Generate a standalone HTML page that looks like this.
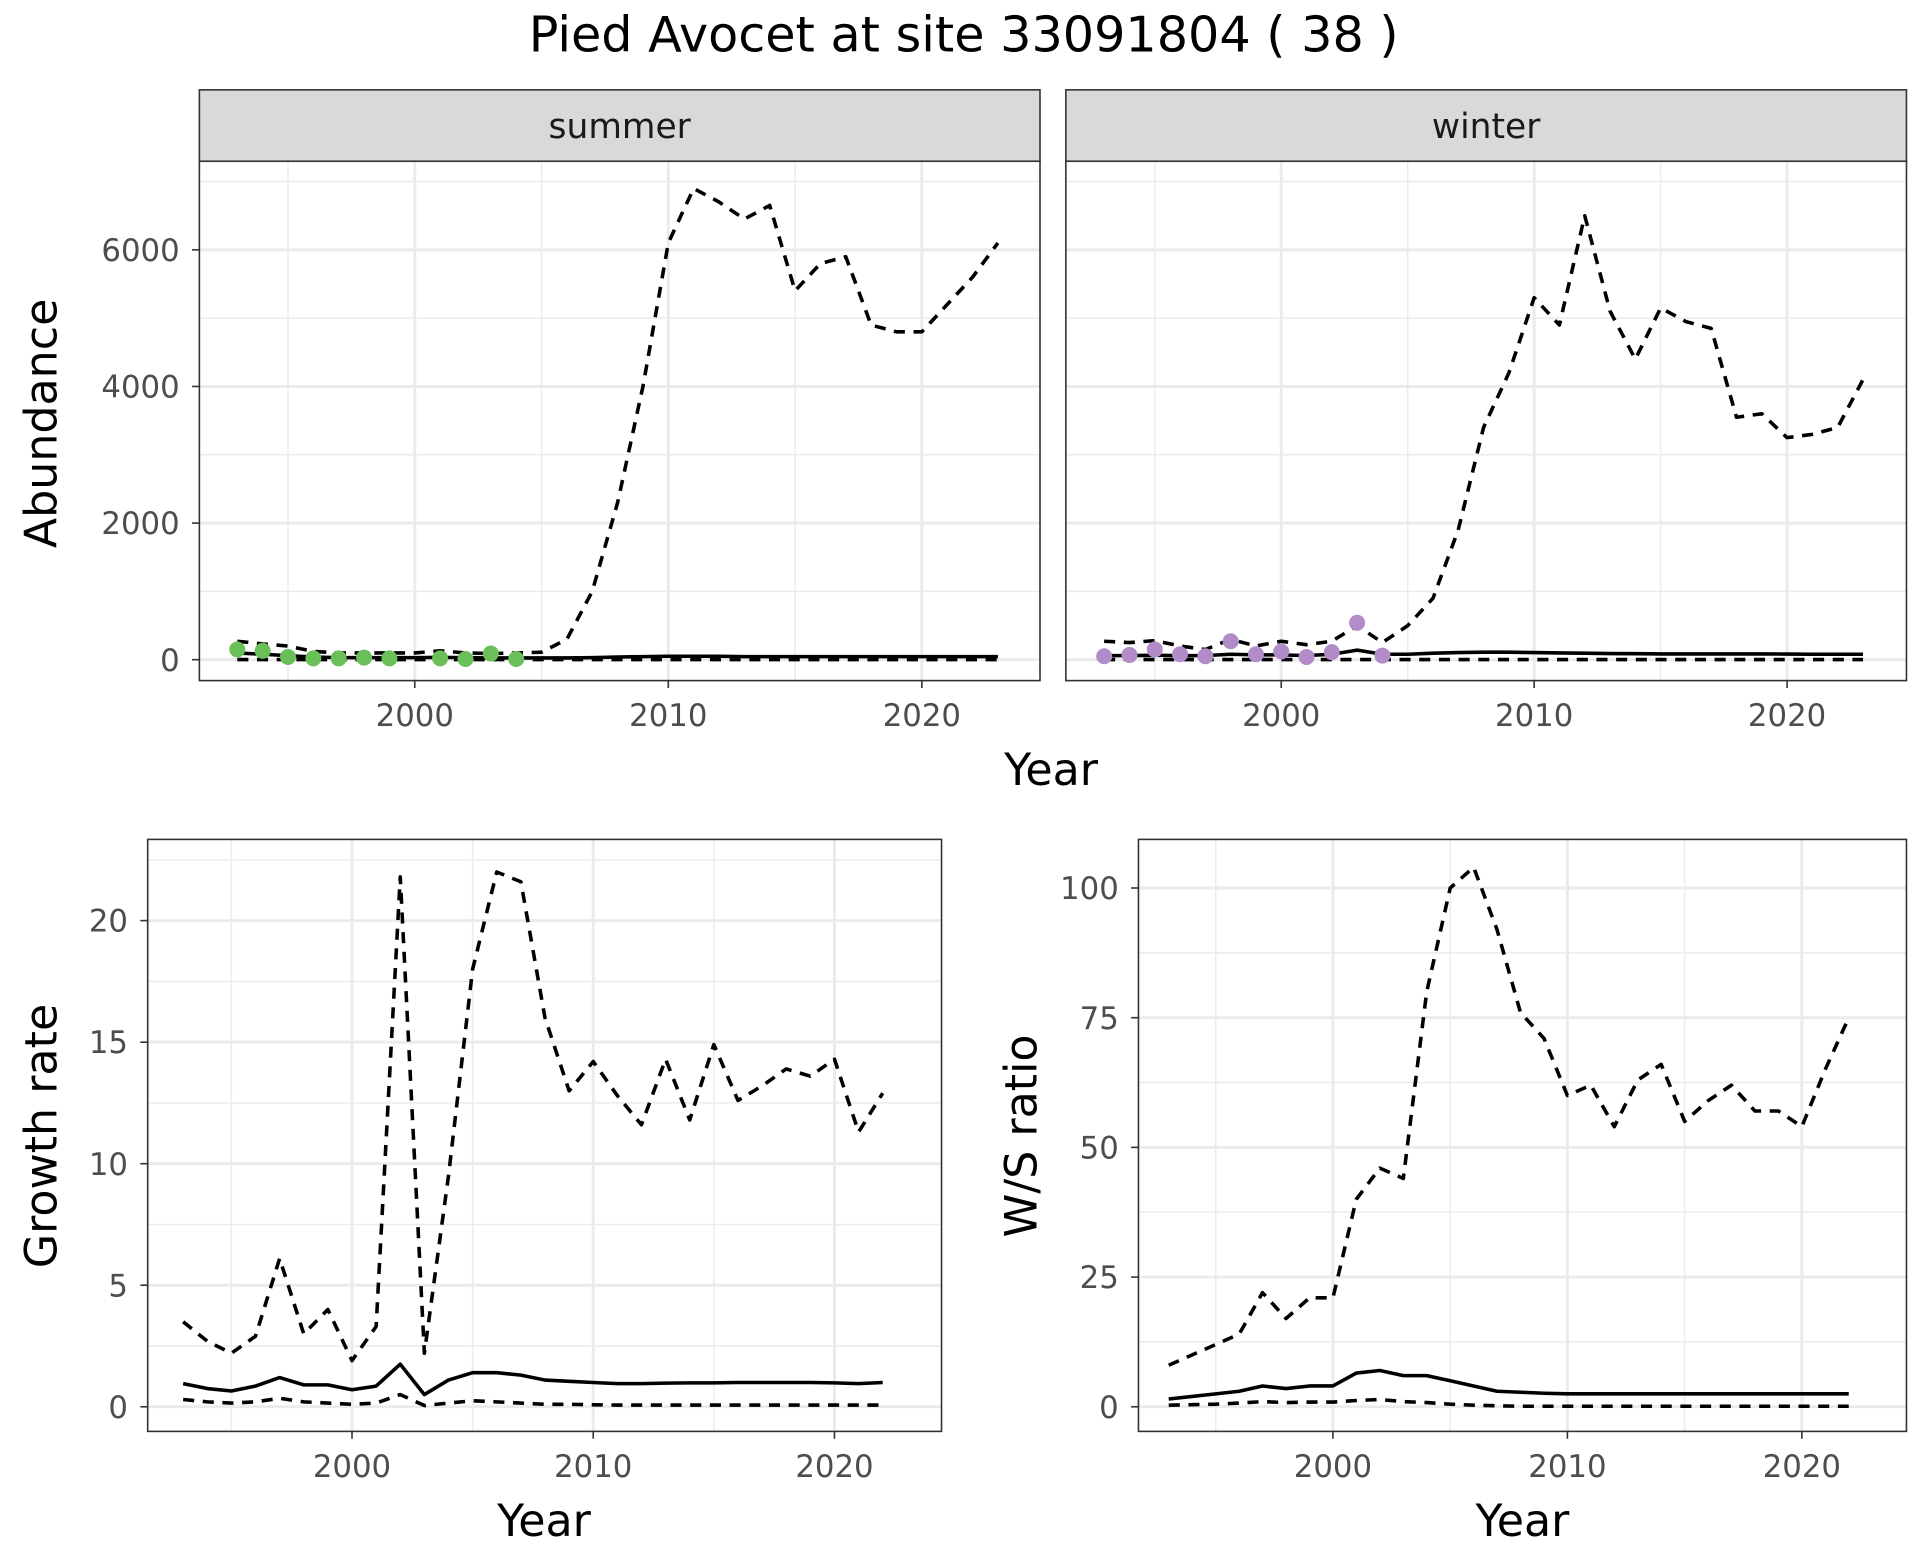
<!DOCTYPE html>
<html><head><meta charset="utf-8"><style>html,body{margin:0;padding:0;background:#fff}svg{display:block}</style></head>
<body>
<svg id="s" width="1920" height="1560" viewBox="0 0 1560 1267.5" xmlns="http://www.w3.org/2000/svg" font-family="DejaVu Sans, Liberation Sans, sans-serif">
<rect width="1560" height="1267.5" fill="#fff"/>
<text x="783" y="42" font-size="40" text-anchor="middle" fill="#000">Pied Avocet at site 33091804 ( 38 )</text>
</svg>
<script>
const S=document.getElementById('s'),NS='http://www.w3.org/2000/svg';
function el(t,a,txt){const e=document.createElementNS(NS,t);for(const k in a)e.setAttribute(k,a[k]);if(txt!==undefined)e.textContent=txt;S.appendChild(e);return e;}
function panel(p){
 const X=y=>p.x0+(y-2000)*p.xs, Y=v=>p.y0-v*p.ys;
 el('rect',{x:p.l,y:p.t,width:p.r-p.l,height:p.b-p.t,fill:'#fff'});
 p.yminor.forEach(v=>{const y=Y(v);if(y>p.t&&y<p.b)el('line',{x1:p.l,x2:p.r,y1:y,y2:y,stroke:'#ebebeb','stroke-width':1.2});});
 [1995,2005,2015].forEach(v=>el('line',{x1:X(v),x2:X(v),y1:p.t,y2:p.b,stroke:'#ebebeb','stroke-width':1.2}));
 p.ymajor.forEach(v=>{const y=Y(v);el('line',{x1:p.l,x2:p.r,y1:y,y2:y,stroke:'#ebebeb','stroke-width':2.4});});
 [2000,2010,2020].forEach(v=>el('line',{x1:X(v),x2:X(v),y1:p.t,y2:p.b,stroke:'#ebebeb','stroke-width':2.4}));
 const line=(d,dash)=>{let s='';d.forEach((v,i)=>{s+=(i?'L':'M')+X(p.start+i).toFixed(1)+' '+Y(v).toFixed(1);});
  const a={d:s,fill:'none',stroke:'#000','stroke-width':2.9,'stroke-linejoin':'round'};if(dash)a['stroke-dasharray']='9 7';el('path',a);};
 line(p.up,1);line(p.lo,1);line(p.mid,0);
 if(p.pts)p.pts.forEach(([yr,v])=>el('circle',{cx:X(yr),cy:Y(v),r:6.5,fill:p.pc}));
 el('rect',{x:p.l,y:p.t,width:p.r-p.l,height:p.b-p.t,fill:'none',stroke:'#333','stroke-width':1.3});
 [2000,2010,2020].forEach(v=>{el('line',{x1:X(v),x2:X(v),y1:p.b,y2:p.b+6,stroke:'#333','stroke-width':1.3});
  el('text',{x:X(v),y:p.b+37,'font-size':25,'text-anchor':'middle',fill:'#4d4d4d'},v);});
 if(p.ylab){p.ymajor.forEach(v=>{const y=Y(v);el('line',{x1:p.l-6,x2:p.l,y1:y,y2:y,stroke:'#333','stroke-width':1.3});
  el('text',{x:p.l-16,y:y+9,'font-size':25,'text-anchor':'end',fill:'#4d4d4d'},v);});}
 if(p.strip){el('rect',{x:p.l,y:73,width:p.r-p.l,height:58,fill:'#d9d9d9',stroke:'#333','stroke-width':1.3});
  el('text',{x:(p.l+p.r)/2,y:112,'font-size':28,'text-anchor':'middle',fill:'#1a1a1a'},p.strip);}
}
const sumUp=[270,230,200,120,100,100,100,100,130,100,90,100,110,300,1000,2300,4000,6100,6900,6700,6450,6650,5400,5800,5900,4900,4800,4800,5200,5600,6100];
const sumMid=[100,80,60,40,30,30,30,30,35,30,25,25,25,25,30,40,45,50,50,50,45,45,45,45,45,45,45,45,45,45,45];
const lo31=Array(31).fill(2);
panel({l:162,r:845,t:131,b:553,x0:337,xs:20.6,y0:536,ys:0.0555,start:1993,ymajor:[0,2000,4000,6000],yminor:[1000,3000,5000,7000],ylab:1,strip:'summer',
 up:sumUp,mid:sumMid,lo:lo31,pc:'#6abf59',pts:[[1993,150],[1994,130],[1995,40],[1996,20],[1997,20],[1998,30],[1999,20],[2001,20],[2002,10],[2003,90],[2004,10]]});
const winUp=[270,250,280,200,150,300,200,270,220,270,500,250,500,900,1900,3400,4200,5300,4900,6500,5100,4400,5150,4950,4850,3550,3600,3250,3300,3400,4100];
const winMid=[60,60,65,60,60,80,70,70,60,80,140,80,80,95,105,110,110,105,100,95,90,88,85,85,85,85,85,82,80,80,80];
panel({l:866,r:1549,t:131,b:553,x0:1041,xs:20.55,y0:536,ys:0.0555,start:1993,ymajor:[0,2000,4000,6000],yminor:[1000,3000,5000,7000],strip:'winter',
 up:winUp,mid:winMid,lo:lo31,pc:'#b18cc9',pts:[[1993,50],[1994,70],[1995,150],[1996,80],[1997,50],[1998,270],[1999,80],[2000,120],[2001,40],[2002,110],[2003,540],[2004,60]]});
panel({l:120,r:765,t:682,b:1163,x0:286,xs:19.6,y0:1143,ys:19.75,start:1993,ymajor:[0,5,10,15,20],yminor:[2.5,7.5,12.5,17.5,22.5],ylab:1,
 up:[3.5,2.7,2.2,2.9,6.1,3.0,4.0,1.9,3.3,21.8,2.2,9.5,18,22,21.6,16,13,14.2,12.8,11.6,14.3,11.8,14.9,12.6,13.2,13.9,13.6,14.3,11.3,12.9],
 mid:[0.95,0.75,0.65,0.85,1.2,0.9,0.9,0.7,0.85,1.75,0.5,1.1,1.4,1.4,1.3,1.1,1.05,1.0,0.95,0.95,0.97,0.98,0.98,1.0,1.0,1.0,1.0,0.98,0.95,1.0],
 lo:[0.3,0.2,0.15,0.2,0.35,0.2,0.15,0.1,0.15,0.5,0.05,0.15,0.25,0.2,0.15,0.1,0.1,0.08,0.07,0.07,0.07,0.07,0.07,0.07,0.07,0.07,0.07,0.07,0.07,0.07]});
panel({l:925,r:1549,t:682,b:1163,x0:1083,xs:19.05,y0:1143,ys:4.215,start:1993,ymajor:[0,25,50,75,100],yminor:[12.5,37.5,62.5,87.5],ylab:1,
 up:[8,10,12,14,22,17,21,21,40,46,44,80,100,104,92,76,71,60,62,54,63,66,55,59,62,57,57,54,65,75],
 mid:[1.5,2,2.5,3,4,3.5,4,4,6.5,7,6,6,5,4,3,2.8,2.6,2.5,2.5,2.5,2.5,2.5,2.5,2.5,2.5,2.5,2.5,2.5,2.5,2.5],
 lo:[0.3,0.4,0.5,0.7,1,0.8,0.9,0.9,1.2,1.4,1,0.8,0.5,0.3,0.2,0.1,0.1,0.1,0.1,0.1,0.1,0.1,0.1,0.1,0.1,0.1,0.1,0.1,0.1,0.1]});
el('text',{x:854,y:638,'font-size':36,'text-anchor':'middle',fill:'#000'},'Year');
el('text',{x:442,y:1248,'font-size':36,'text-anchor':'middle',fill:'#000'},'Year');
el('text',{x:1237,y:1248,'font-size':36,'text-anchor':'middle',fill:'#000'},'Year');
el('text',{x:0,y:0,'font-size':36,'text-anchor':'middle',fill:'#000',transform:'translate(46,344) rotate(-90)'},'Abundance');
el('text',{x:0,y:0,'font-size':36,'text-anchor':'middle',fill:'#000',transform:'translate(46,923) rotate(-90)'},'Growth rate');
el('text',{x:0,y:0,'font-size':36,'text-anchor':'middle',fill:'#000',transform:'translate(842,923) rotate(-90)'},'W/S ratio');
</script>
</body></html>
